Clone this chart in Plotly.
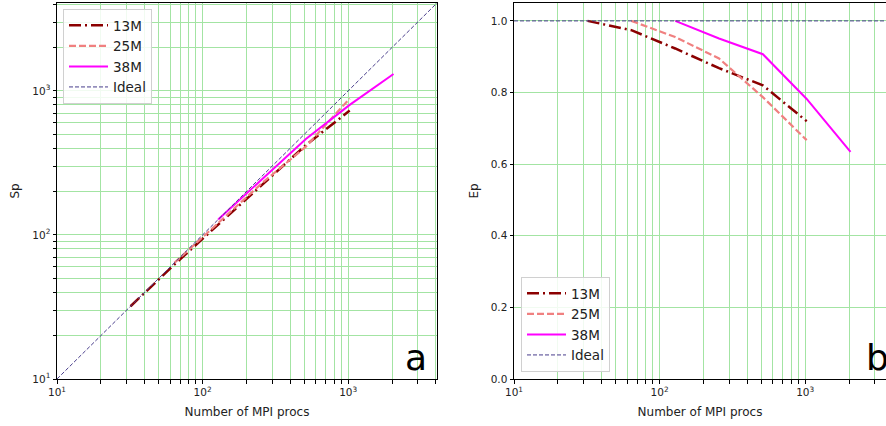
import plotly.graph_objects as go

# Strong-scaling results for three mesh sizes
procs_13m = [32, 64, 128, 256, 512, 1024]
procs_25m = [64, 128, 256, 512, 1024]
procs_38m = [128, 256, 512, 1024, 2048]

# Speed-up
sp_13m = [32, 62.3, 118, 222, 420, 730]
sp_25m = [64, 122, 229, 410, 885]
sp_38m = [128, 243, 464, 800, 1310]

# Parallel efficiency
ep_13m = [1.0, 0.974, 0.923, 0.868, 0.82, 0.72]
ep_25m = [1.0, 0.955, 0.895, 0.787, 0.667]
ep_38m = [1.0, 0.951, 0.907, 0.782, 0.634]

ideal_procs = [10, 4096]
ideal_sp = [10, 4096]
ideal_ep = [1.0, 1.0]

series_names = ["13M", "25M", "38M", "Ideal"]
panel_labels = ["a", "b"]

# log-axis ticks: labelled decades plus unlabelled intermediate values
decade_labels = {10: "10<sup>1</sup>", 100: "10<sup>2</sup>", 1000: "10<sup>3</sup>"}
log_tick_vals = [m * d for d in (10, 100, 1000) for m in range(1, 10)]
log_tick_text = [decade_labels.get(v, "") for v in log_tick_vals]

GRID = "#a3e4a3"
FONT = "DejaVu Sans, sans-serif"
TXT = "#222222"

styles = {
    "13M": dict(color="#8b0000", width=2.5, dash="12px,4px,2px,4px"),
    "25M": dict(color="#f08080", width=2.2, dash="7px,3px"),
    "38M": dict(color="#ff00ff", width=2.0, dash="solid"),
    "Ideal": dict(color="#483d8b", width=1.0, dash="4px,2px"),
}

fig = go.Figure()

left = [(procs_13m, sp_13m), (procs_25m, sp_25m), (procs_38m, sp_38m), (ideal_procs, ideal_sp)]
right = [(procs_13m, ep_13m), (procs_25m, ep_25m), (procs_38m, ep_38m), (ideal_procs, ideal_ep)]

for name, (x, y) in zip(series_names, left):
    fig.add_trace(go.Scatter(x=x, y=y, mode="lines", name=name, line=styles[name],
                             xaxis="x", yaxis="y", legend="legend"))
for name, (x, y) in zip(series_names, right):
    fig.add_trace(go.Scatter(x=x, y=y, mode="lines", name=name, line=styles[name],
                             xaxis="x2", yaxis="y2", legend="legend2"))

W, H = 886, 426

def px_x(p):
    return p / W

def px_y(p):
    return 1 - p / H

log_axis = dict(
    type="log", showgrid=True, gridcolor=GRID, gridwidth=1,
    tickmode="array", tickvals=log_tick_vals, ticktext=log_tick_text,
    ticks="outside", ticklen=3.5, tickwidth=1, tickcolor="black",
    showline=True, linecolor="black", linewidth=1,
    tickfont=dict(size=10.5, color=TXT, family=FONT),
    zeroline=False, automargin=False,
)

legend_common = dict(bgcolor="rgba(255,255,255,0.85)", bordercolor="#d0d0d0", borderwidth=1,
                     font=dict(size=13.5, color=TXT), tracegroupgap=0, itemwidth=39)

fig.update_layout(
    width=W, height=H,
    margin=dict(l=0, r=0, t=0, b=0, autoexpand=False),
    paper_bgcolor="white", plot_bgcolor="white",
    font=dict(family=FONT, color=TXT),
    xaxis=dict(log_axis, domain=[px_x(57), px_x(437)], range=[1, 3.61], anchor="y",
               mirror=True,
               title=dict(text="Number of MPI procs", font=dict(size=12), standoff=10)),
    yaxis=dict(log_axis, domain=[px_y(379), px_y(3)], range=[1, 3.61], anchor="x",
               mirror=True,
               title=dict(text="Sp", font=dict(size=12), standoff=10)),
    xaxis2=dict(log_axis, domain=[px_x(514), 1.0], range=[1, 3.555], anchor="y2",
                mirror=True,
                title=dict(text="Number of MPI procs", font=dict(size=12), standoff=10)),
    yaxis2=dict(
        domain=[px_y(379), px_y(3)], range=[0, 1.05], anchor="x2",
        tickvals=[0.0, 0.2, 0.4, 0.6, 0.8, 1.0], tickformat=".1f",
        showgrid=True, gridcolor=GRID, gridwidth=1,
        ticks="outside", ticklen=3.5, tickcolor="black",
        showline=True, linecolor="black", linewidth=1, mirror=False,
        tickfont=dict(size=10.5, color=TXT), zeroline=False, automargin=False,
        title=dict(text="Ep", font=dict(size=12), standoff=9),
    ),
    legend=dict(legend_common, x=px_x(63), y=px_y(9), xanchor="left", yanchor="top"),
    legend2=dict(legend_common, x=px_x(521), y=px_y(372), xanchor="left", yanchor="bottom"),
    showlegend=True,
)

fig.add_annotation(text=panel_labels[0], x=px_x(415.5), y=px_y(357), xref="paper", yref="paper",
                   xanchor="center", yanchor="middle", showarrow=False,
                   font=dict(size=36, color="black"))
fig.add_annotation(text=panel_labels[1], x=px_x(877), y=px_y(357), xref="paper", yref="paper",
                   xanchor="center", yanchor="middle", showarrow=False,
                   font=dict(size=36, color="black"))

fig.write_html("out.html")
